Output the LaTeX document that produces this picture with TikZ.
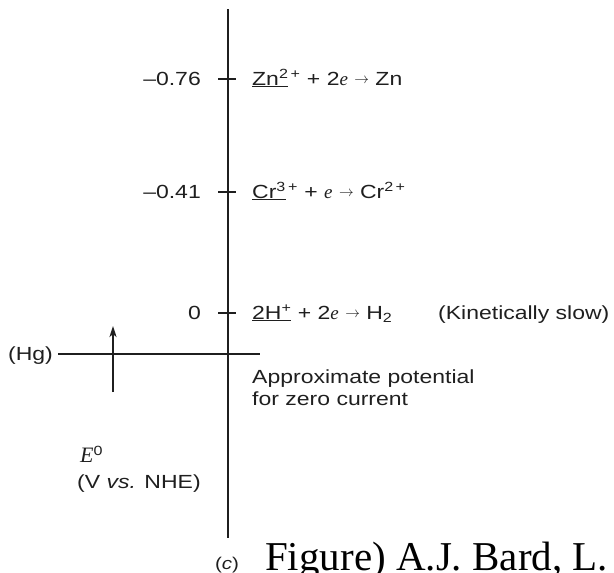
\documentclass[tikz,border=0pt]{standalone}
\usepackage{fontspec}
\usepackage{graphicx}
\setmainfont{Liberation Sans}[FakeStretch=1.21]
\newfontfamily\serif{Liberation Serif}
\usetikzlibrary{arrows.meta}
\newcommand{\el}{{\serif\itshape e}}
\newcommand{\rarr}{\raisebox{0.1ex}{\scalebox{0.85}{$\rightarrow$}}}
\begin{document}
\begin{tikzpicture}[x=1pt,y=-1pt,
  lbl/.style={inner sep=0pt, font=\fontsize{19}{22}\selectfont, text=black!88},
  axline/.style={line width=2.2pt, line cap=butt, black!88},
  tickline/.style={line width=1.7pt, black!88},
  uparrow/.style={line width=2pt, black!88, -{Stealth[length=11pt,width=7pt,inset=3pt]}},
  capt/.style={inner sep=0pt, font=\serif\fontsize{41}{45}\selectfont}]
\useasboundingbox (0,0) rectangle (614,573);
% axis
\coordinate (top) at (228,9);
\coordinate (bot) at (228,538);
\draw[axline] (top) -- (bot);
% ticks
\coordinate (t1) at (228,79);
\coordinate (t2) at (228,192);
\coordinate (t3) at (228,313);
\foreach \t in {t1,t2,t3}
  \draw[tickline] ([xshift=-10pt]\t) -- ([xshift=8pt]\t);
% values
\node[lbl, anchor=base east] (v1) at (201,85) {\textendash0.76};
\node[lbl, anchor=base east] (v2) at (201,198) {\textendash0.41};
\node[lbl, anchor=base east] (v3) at (201,319) {0};
% reactions
\node[lbl, anchor=base west] (r1) at (252,85)
  {\underline{Zn\textsuperscript{2}}\textsuperscript{\,+} + 2\el{} \rarr{} Zn};
\node[lbl, anchor=base west] (r2) at (252,198)
  {\underline{Cr\textsuperscript{3}}\textsuperscript{\,+} + \el{} \rarr{} Cr\textsuperscript{2\,+}};
\node[lbl, anchor=base west] (r3) at (252,319)
  {\underline{2H\textsuperscript{+}} + 2\el{} \rarr{} H\textsubscript{2}};
\node[lbl, anchor=base west] (kin) at (438,319) {(Kinetically slow)};
% Hg line
\coordinate (hgL) at (58,354);
\coordinate (hgR) at (260,354);
\draw[axline] (hgL) -- (hgR);
\node[lbl, anchor=base east] (hg) at (53,360) {(Hg)};
% arrow
\coordinate (arB) at (113,392);
\coordinate (arT) at (113,326);
\draw[uparrow] (arB) -- (arT);
% approx text
\node[lbl, anchor=base west] (ap1) at (252,383) {Approximate potential};
\node[lbl, anchor=base west] (ap2) at (252,405) {for zero current};
% E0
\node[lbl, anchor=base west] (e0) at (80,462) {{\serif\itshape\fontsize{22}{24}\selectfont E}\textsuperscript{0}};
\node[lbl, anchor=base west] (vn) at (77,488) {(V \textit{vs.} NHE)};
% bottom
\node[lbl, anchor=base, font=\fontsize{17}{19}\selectfont] (cc) at (227,569) {(\textit{c})};
\node[capt, anchor=base west] (fig) at (265,570) {Figure) A.J. Bard, L.};
\end{tikzpicture}
\end{document}
